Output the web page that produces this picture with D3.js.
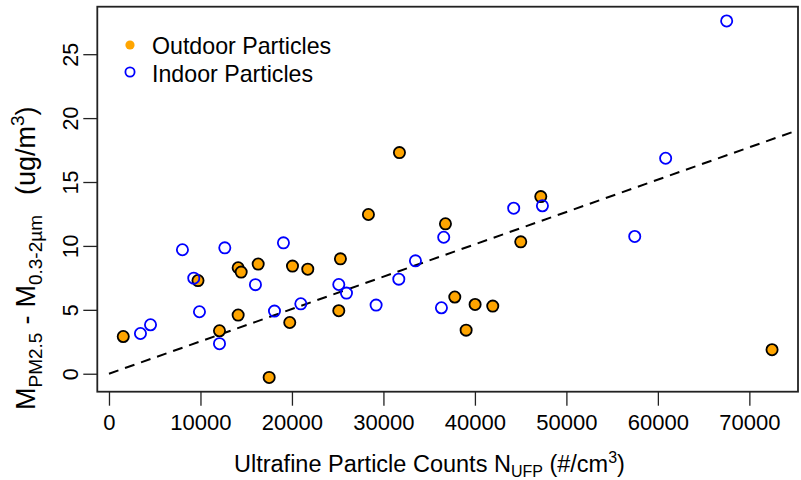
<!DOCTYPE html>
<html>
<head>
<meta charset="utf-8">
<script src="https://cdn.jsdelivr.net/npm/d3@7"></script>
<style>
  html, body { margin: 0; padding: 0; background: #fff; }
  svg { display: block; font-family: "Liberation Sans", Arial, Helvetica, sans-serif; }
</style>
</head>
<body>
<svg id="chart" width="801" height="480"></svg>
<script>
// ---- data ----
const outdoorX = [1560, 9730, 12080, 14120, 14120, 14450, 16310, 17510, 19760, 20060, 21730, 25120, 25300, 28360, 31750, 36780, 37800, 39040, 40020, 41950, 45010, 47200, 72480];
const outdoorY = [2.91, 7.29, 3.36, 4.59, 8.29, 7.95, 8.58, -0.29, 4.01, 8.42, 8.18, 4.93, 8.99, 12.46, 17.30, 11.73, 6.00, 3.41, 5.42, 5.29, 10.32, 13.86, 1.88];
const indoorX = [3440, 4540, 8030, 9270, 9890, 12080, 12660, 16010, 18090, 19070, 20970, 25120, 25960, 29200, 31680, 33500, 36340, 36590, 44240, 47380, 57470, 60850, 67520];
const indoorY = [3.15, 3.83, 9.70, 7.48, 4.85, 2.35, 9.85, 6.97, 4.90, 10.24, 5.47, 6.98, 6.31, 5.37, 7.40, 8.83, 5.16, 10.68, 12.95, 13.14, 10.74, 16.86, 27.60];
const xTicks = [0, 10000, 20000, 30000, 40000, 50000, 60000, 70000];
const yTicks = [0, 5, 10, 15, 20, 25];
const fitSlope = 2.531e-4;
const fitRange = [0, 75000];
const seriesNames = ["Outdoor Particles", "Indoor Particles"];

// ---- layout ----
const svg = d3.select("#chart");
const L = 97.3, R = 798, T = 6.7, B = 391.7;

function rExtent(vals) {
  const lo = d3.min(vals), hi = d3.max(vals), d = (hi - lo) * 0.04;
  return [lo - d, hi + d];
}
const x = d3.scaleLinear().domain(rExtent(outdoorX.concat(indoorX))).range([L, R]);
const y = d3.scaleLinear().domain(rExtent(outdoorY.concat(indoorY))).range([B, T]);

// axes
const xAxis = svg.append("g").attr("transform", `translate(0,${B})`)
  .call(d3.axisBottom(x).tickValues(xTicks).tickFormat(d3.format("d")).tickSize(14).tickPadding(9));
xAxis.select(".domain").remove();
xAxis.selectAll("line").attr("stroke", "#222").attr("stroke-width", 1.3);
xAxis.selectAll("text").attr("font-size", 22).attr("fill", "#000")
  .attr("font-family", "'Liberation Sans', Arial, sans-serif");

const yAxis = svg.append("g").attr("transform", `translate(${L},0)`)
  .call(d3.axisLeft(y).tickValues(yTicks).tickSize(14).tickPadding(0));
yAxis.select(".domain").remove();
yAxis.selectAll("line").attr("stroke", "#222").attr("stroke-width", 1.3);
yAxis.selectAll("text")
  .attr("font-size", 21.5).attr("fill", "#000")
  .attr("font-family", "'Liberation Sans', Arial, sans-serif")
  .attr("text-anchor", "middle")
  .attr("dy", null)
  .attr("x", null)
  .attr("transform", "translate(-19.5,0) rotate(-90)");

// regression line
const line = d3.line().x(d => x(d)).y(d => y(fitSlope * d));
svg.append("path").datum(fitRange).attr("d", line)
  .attr("fill", "none").attr("stroke", "#000").attr("stroke-width", 2)
  .attr("stroke-dasharray", "10,7");

// points
const outdoor = outdoorX.map((v, i) => [v, outdoorY[i]]);
const indoor = indoorX.map((v, i) => [v, indoorY[i]]);
svg.append("g").selectAll("circle").data(outdoor).join("circle")
  .attr("cx", d => x(d[0])).attr("cy", d => y(d[1])).attr("r", 5.6)
  .attr("fill", "#FFA500").attr("stroke", "#000").attr("stroke-width", 1.8);
svg.append("g").selectAll("circle").data(indoor).join("circle")
  .attr("cx", d => x(d[0])).attr("cy", d => y(d[1])).attr("r", 5.6)
  .attr("fill", "none").attr("stroke", "#0000FF").attr("stroke-width", 1.8);

// box
svg.append("rect").attr("x", L).attr("y", T).attr("width", R - L).attr("height", B - T)
  .attr("fill", "none").attr("stroke", "#222").attr("stroke-width", 1.8);

// legend
const leg = svg.append("g");
leg.append("circle").attr("cx", 130).attr("cy", 45).attr("r", 4.6).attr("fill", "#FFA500");
leg.append("circle").attr("cx", 130).attr("cy", 72).attr("r", 4.6).attr("fill", "none")
  .attr("stroke", "#0000FF").attr("stroke-width", 1.8);
leg.append("text").attr("x", 152).attr("y", 53.5).attr("font-size", 23.2).text(seriesNames[0]);
leg.append("text").attr("x", 152).attr("y", 81.5).attr("font-size", 23.2).text(seriesNames[1]);

// x title
const xt = svg.append("text").attr("x", 234).attr("y", 472).attr("font-size", 23.5);
xt.append("tspan").text("Ultrafine Particle Counts N");
xt.append("tspan").attr("font-size", 16).attr("dy", 5).text("UFP");
xt.append("tspan").attr("dy", -5).text(" (#/cm");
xt.append("tspan").attr("font-size", 16).attr("dy", -9).text("3");
xt.append("tspan").attr("dy", 9).text(")");

// y title
const yt = svg.append("text").attr("transform", "translate(35,410) rotate(-90)").attr("font-size", 27);
yt.append("tspan").text("M");
yt.append("tspan").attr("font-size", 19).attr("dy", 6.5).text("PM2.5");
yt.append("tspan").attr("dy", -6.5).attr("dx", 8).text("-");
yt.append("tspan").attr("dx", 8).text("M");
yt.append("tspan").attr("font-size", 19).attr("dy", 6.5).text("0.3-2\u00B5m");
yt.append("tspan").attr("dy", -6.5).attr("dx", 20).text("(ug/m");
yt.append("tspan").attr("font-size", 19).attr("dy", -11).text("3");
yt.append("tspan").attr("dy", 11).text(")");
</script>
</body>
</html>
